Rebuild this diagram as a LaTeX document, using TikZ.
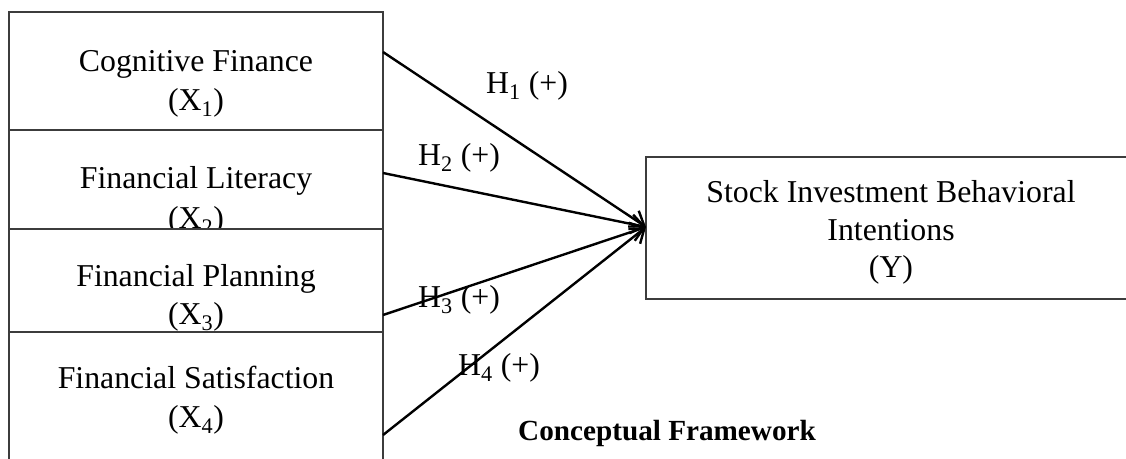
\documentclass[tikz,border=0pt]{standalone}
\usepackage{fontspec}
\setmainfont{Liberation Serif}
\usetikzlibrary{arrows.meta}
\definecolor{boxgray}{HTML}{3C3C3C}
\begin{document}
\begin{tikzpicture}[x=1pt,y=-1pt,
  box/.style={draw=boxgray,fill=white,line width=1.3pt,inner sep=0pt,outer sep=0pt,anchor=north west},
  txt/.style={font=\fontsize{31.8}{39}\selectfont,inner sep=0pt,anchor=base},
  hyp/.style={txt,anchor=base west},
  link/.style={line width=2.4pt,-{Straight Barb[length=13pt,width=19pt,line width=2.4pt]}}]
\useasboundingbox (0,0) rectangle (1126,458);
\clip (0,0) rectangle (1126,458);
% left boxes
\node[box,minimum width=374pt,minimum height=118pt] (b1) at (9,12) {};
\node[txt] (t1) at (196,71) {Cognitive Finance};
\node[txt] (v1) at (196,110) {(X\textsubscript{1})};
\node[box,minimum width=374pt,minimum height=99pt] (b2) at (9,130) {};
\node[txt] (t2) at (196,188) {Financial Literacy};
\node[txt] (v2) at (196,228) {(X\textsubscript{2})};
\node[box,minimum width=374pt,minimum height=103pt] (b3) at (9,229) {};
\node[txt] (t3) at (196,286) {Financial Planning};
\node[txt] (v3) at (196,324) {(X\textsubscript{3})};
\node[box,minimum width=374pt,minimum height=140pt] (b4) at (9,332) {};
\node[txt] (t4) at (196,388) {Financial Satisfaction};
\node[txt] (v4) at (196,427) {(X\textsubscript{4})};
% right box
\node[box,minimum width=520pt,minimum height=142pt] (Y) at (646,157) {};
\node[txt] (y1) at (891,202) {Stock Investment Behavioral};
\node[txt] (y2) at (891,240) {Intentions};
\node[txt] (y3) at (891,277) {(Y)};
% hypothesis labels
\node[hyp] (h1) at (486,93) {H\textsubscript{1} (+)};
\node[hyp] (h2) at (418,165) {H\textsubscript{2} (+)};
\node[hyp] (h3) at (418,307) {H\textsubscript{3} (+)};
\node[hyp] (h4) at (458,375) {H\textsubscript{4} (+)};
% caption
\node[font=\fontsize{29.2}{35}\selectfont\bfseries,inner sep=0pt,anchor=base west] (cap) at (518,440) {Conceptual Framework};
% connectors
\coordinate (s1) at (383,52);
\coordinate (s2) at (383,173);
\coordinate (s3) at (383,315);
\coordinate (s4) at (383,435);
\coordinate (tip) at (646,227);
\draw[link] (s1) -- (tip);
\draw[link] (s2) -- (tip);
\draw[link] (s3) -- (tip);
\draw[link] (s4) -- (tip);
\end{tikzpicture}
\end{document}
